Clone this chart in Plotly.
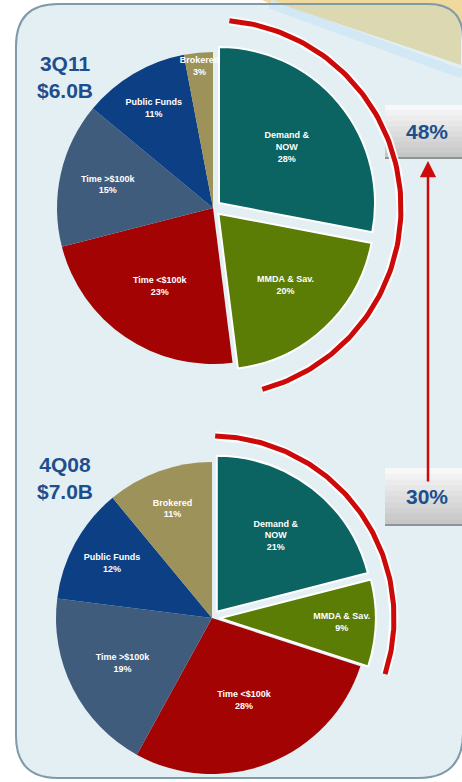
import numpy as np
import plotly.graph_objects as go

W, H = 462, 782

# data
categories = ["Demand & NOW", "MMDA & Sav.", "Time <$100k", "Time >$100k", "Public Funds", "Brokered"]
slice_text = ["Demand &amp;<br>NOW", "MMDA &amp; Sav.", "Time &lt;$100k", "Time &gt;$100k", "Public Funds", "Brokered"]
share_3q11 = [28, 20, 23, 15, 11, 3]
share_4q08 = [21, 9, 28, 19, 12, 11]
periods = ["3Q11", "4Q08"]
totals = ["$6.0B", "$7.0B"]
core_share = ["48%", "30%"]   # Demand & NOW + MMDA & Sav.

colors = ["#0b6462", "#5b7d06", "#a30303", "#3f5c7c", "#0c3f84", "#9c925a"]
pulls = [0.05, 0.05, 0, 0, 0, 0]
BLUE = "#1d4e8e"
RED = "#cc0a0a"

# pixel layout of the two pies: centre x, centre y, radius
pies = [dict(values=share_3q11, cx=213, cy=208, r=156, arc_r=188, trim=(5, 8), title_y=77),
        dict(values=share_4q08, cx=212, cy=618, r=156, arc_r=182, trim=(1, 0), title_y=478)]


def domain(cx, cy, r, p):
    half = r * (1 + p)
    return dict(x=[max(0, (cx - half) / W), min(1, (cx + half) / W)],
                y=[max(0, 1 - (cy + half) / H), min(1, 1 - (cy - half) / H)])


fig = go.Figure()

for p in pies:
    fig.add_trace(go.Pie(
        labels=categories, values=p["values"], text=slice_text,
        texttemplate="%{text}<br>%{value}%",
        textposition="inside", insidetextorientation="horizontal",
        textfont=dict(size=9, color="white", family="Liberation Sans, Arial", weight="bold"),
        marker=dict(colors=colors, line=dict(color="white", width=[2, 2, 0, 0, 0, 0])),
        pull=pulls, sort=False, direction="clockwise", rotation=0,
        domain=domain(p["cx"], p["cy"], p["r"], max(pulls)),
        hoverinfo="skip", showlegend=False,
    ))

    # red arc around Demand & NOW + MMDA & Sav.
    span = 360 * (p["values"][0] + p["values"][1]) / sum(p["values"])
    th = np.radians(np.linspace(p["trim"][0], span - p["trim"][1], 120))
    ax = p["cx"] + p["arc_r"] * np.sin(th)
    ay = p["cy"] - p["arc_r"] * np.cos(th)
    fig.add_trace(go.Scatter(x=ax, y=ay, mode="lines", line=dict(color="rgba(255,255,255,0.9)", width=9),
                             hoverinfo="skip", showlegend=False))
    fig.add_trace(go.Scatter(x=ax, y=ay, mode="lines", line=dict(color=RED, width=5),
                             hoverinfo="skip", showlegend=False))

# background: tan swoosh, panel, border
x0, y0, x1, y1 = 16, 4, 463, 778
tl, tr, br, bl = 42, 35, 45, 42
panel = (f"M {x0+tl},{y0} L {x1-tr},{y0} Q {x1},{y0} {x1},{y0+tr} L {x1},{y1-br} "
         f"Q {x1},{y1} {x1-br},{y1} L {x0+bl},{y1} Q {x0},{y1} {x0},{y1-bl} "
         f"L {x0},{y0+tl} Q {x0},{y0} {x0+tl},{y0} Z")
shapes = [
    dict(type="path", path="M 262,0 L 462,0 L 462,90 Z", fillcolor="#efd99c", line_width=0),
    dict(type="path", path=panel, fillcolor="#e4eff3", line_width=0),
    dict(type="line", x0=270, y0=4, x1=462, y1=74, line=dict(color="#d2e8f4", width=9)),
    dict(type="path", path="M 283,5 L 430,5 Q 461,5 461,36 L 461,65 Z", fillcolor="#dcd8b2", line_width=0),
    dict(type="path", path=panel, fillcolor="rgba(0,0,0,0)", line=dict(color="#7f9ba7", width=2)),
]

# value boxes with a soft vertical gradient
annotations = []
for (by0, by1), txt in zip([(105, 158), (468, 525)], core_share):
    n = 10
    for k in range(n):
        c = int(248 - (248 - 198) * k / (n - 1))
        shapes.append(dict(type="rect", x0=385, x1=462, y0=by0 + (by1 - by0) * k / n,
                           y1=by0 + (by1 - by0) * (k + 1) / n + 0.5,
                           fillcolor=f"rgb({c},{c},{c})", line_width=0))
    shapes.append(dict(type="line", x0=385, x1=462, y0=by1, y1=by1, line=dict(color="#8c9498", width=2)))
    annotations.append(dict(x=427, y=(by0 + by1) / 2, text=f"<b>{txt}</b>", showarrow=False,
                            xref="x", yref="y", font=dict(size=21, color=BLUE, family="Liberation Sans, Arial")))

for s in shapes:
    s.update(xref="x", yref="y", layer="below")

# red arrow from 30% box up to 48% box
annotations.append(dict(x=428, y=161, ax=428, ay=483, xref="x", yref="y", axref="x", ayref="y",
                        text="", showarrow=True, arrowhead=2, arrowsize=1.3, arrowwidth=2.5,
                        arrowcolor=RED))

# period titles
for p, per, tot in zip(pies, periods, totals):
    annotations.append(dict(x=65, y=p["title_y"], text=f"<b>{per}<br>{tot}</b>", showarrow=False,
                            xref="x", yref="y",
                            font=dict(size=21, color=BLUE, family="Liberation Sans, Arial")))

fig.update_layout(
    width=W, height=H,
    margin=dict(l=0, r=0, t=0, b=0),
    paper_bgcolor="white", plot_bgcolor="rgba(0,0,0,0)",
    xaxis=dict(range=[0, W], visible=False, fixedrange=True, domain=[0, 1]),
    yaxis=dict(range=[H, 0], visible=False, fixedrange=True, domain=[0, 1]),
    uniformtext=dict(minsize=9, mode="show"),
    shapes=shapes, annotations=annotations,
    showlegend=False,
)

fig.write_html("out.html", config={"displayModeBar": False},
               post_script="document.body.style.margin='0';")
